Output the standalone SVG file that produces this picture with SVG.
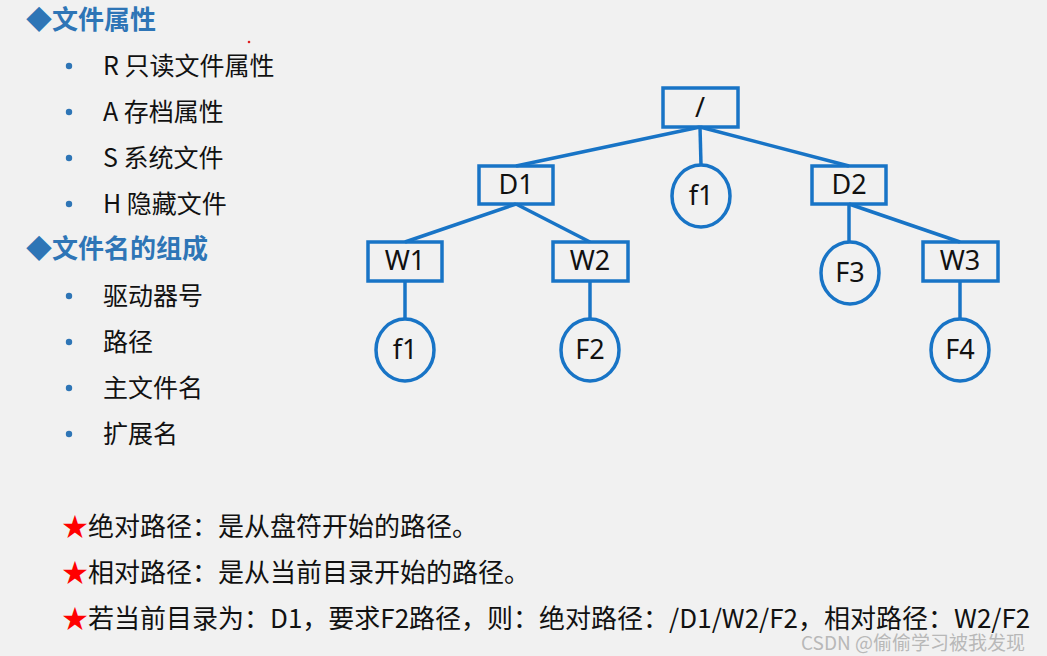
<svg xmlns="http://www.w3.org/2000/svg" width="1047" height="656" viewBox="0 0 1047 656">
<style>
.bg{fill:#f1f1f1}
.head{font-family:"Noto Sans CJK SC","Noto Sans",sans-serif;font-size:26px;fill:#2e75b6;font-weight:bold}
.item{font-family:"Noto Sans CJK SC","Noto Sans",sans-serif;font-size:25px;fill:#111}
.dot{fill:#2e75b6}
.star{fill:#ff0000}
.note{font-family:"Noto Sans CJK SC","Noto Sans",sans-serif;font-size:26px;fill:#111}
.box{fill:none;stroke:#1874c6;stroke-width:3.5}
.conn line{stroke:#1874c6;stroke-width:3.5}
.lbl{font-family:"Noto Sans","Noto Sans CJK SC",sans-serif;font-size:27px;fill:#111;text-anchor:middle}
.wm{font-family:"Noto Sans CJK SC","Noto Sans",sans-serif;font-size:19px;fill:#b8b8b8}
</style>
<rect class="bg" x="0" y="0" width="1047" height="656"/>
<circle cx="249" cy="42" r="1.3" fill="#e02020"/>

<g id="left-list">
<text class="head" x="26" y="29">◆文件属性</text>
<circle class="dot" cx="69" cy="66" r="3.2"/><text class="item" x="103" y="75">R 只读文件属性</text>
<circle class="dot" cx="69" cy="112" r="3.2"/><text class="item" x="103" y="121">A 存档属性</text>
<circle class="dot" cx="69" cy="158" r="3.2"/><text class="item" x="103" y="167">S 系统文件</text>
<circle class="dot" cx="69" cy="204" r="3.2"/><text class="item" x="103" y="213">H 隐藏文件</text>
<text class="head" x="26" y="258">◆文件名的组成</text>
<circle class="dot" cx="69" cy="296" r="3.2"/><text class="item" x="103" y="305">驱动器号</text>
<circle class="dot" cx="69" cy="342" r="3.2"/><text class="item" x="103" y="351">路径</text>
<circle class="dot" cx="69" cy="388" r="3.2"/><text class="item" x="103" y="397">主文件名</text>
<circle class="dot" cx="69" cy="434" r="3.2"/><text class="item" x="103" y="443">扩展名</text>
</g>

<g id="notes">
<text class="note" x="62" y="536"><tspan class="star">★</tspan>绝对路径：是从盘符开始的路径。</text>
<text class="note" x="62" y="582"><tspan class="star">★</tspan>相对路径：是从当前目录开始的路径。</text>
<text class="note" x="62" y="628"><tspan class="star">★</tspan>若当前目录为：D1，要求F2路径，则：绝对路径：/D1/W2/F2，相对路径：W2/F2</text>
</g>

<g id="connectors" class="conn">
<line x1="700" y1="127" x2="516" y2="166"/>
<line x1="700" y1="127" x2="701" y2="165"/>
<line x1="700" y1="127" x2="849" y2="166"/>
<line x1="516" y1="204" x2="405" y2="242"/>
<line x1="516" y1="204" x2="590" y2="242"/>
<line x1="849" y1="204" x2="849" y2="242"/>
<line x1="849" y1="204" x2="960" y2="242"/>
<line x1="405" y1="281" x2="405" y2="319"/>
<line x1="590" y1="281" x2="590" y2="319"/>
<line x1="960" y1="281" x2="960" y2="319"/>
</g>

<g id="node-root"><rect class="box" x="663" y="88" width="75" height="39"/><text class="lbl" x="700" y="117">/</text></g>
<g id="node-D1"><rect class="box" x="479" y="166" width="74" height="38"/><text class="lbl" x="516" y="194">D1</text></g>
<g id="node-f1-top"><ellipse class="box" cx="701" cy="196" rx="29" ry="31"/><text class="lbl" x="701" y="205">f1</text></g>
<g id="node-D2"><rect class="box" x="812" y="166" width="74" height="38"/><text class="lbl" x="849" y="194">D2</text></g>
<g id="node-W1"><rect class="box" x="368" y="242" width="74" height="39"/><text class="lbl" x="405" y="270">W1</text></g>
<g id="node-W2"><rect class="box" x="553" y="242" width="75" height="39"/><text class="lbl" x="590" y="270">W2</text></g>
<g id="node-F3"><ellipse class="box" cx="850" cy="273" rx="29" ry="31"/><text class="lbl" x="850" y="282">F3</text></g>
<g id="node-W3"><rect class="box" x="923" y="242" width="75" height="39"/><text class="lbl" x="960" y="270">W3</text></g>
<g id="node-f1"><ellipse class="box" cx="405" cy="350" rx="29" ry="31"/><text class="lbl" x="405" y="359">f1</text></g>
<g id="node-F2"><ellipse class="box" cx="590" cy="350" rx="29" ry="31"/><text class="lbl" x="590" y="359">F2</text></g>
<g id="node-F4"><ellipse class="box" cx="960" cy="350" rx="29" ry="31"/><text class="lbl" x="960" y="359">F4</text></g>

<text class="wm" x="801" y="650">CSDN @偷偷学习被我发现</text>
</svg>
